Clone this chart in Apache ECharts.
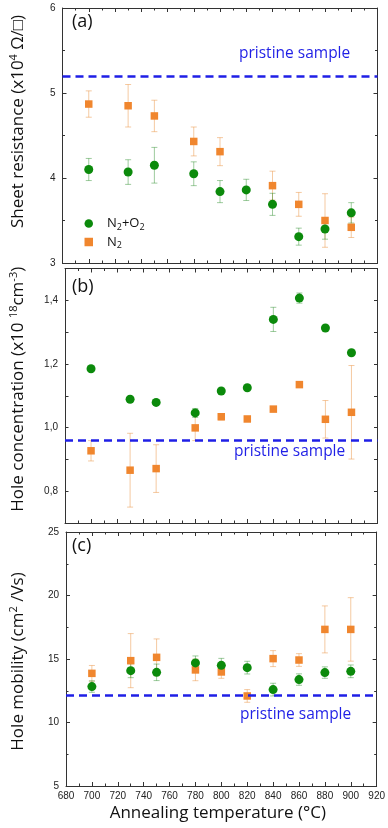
<!DOCTYPE html>
<html>
<head>
<meta charset="utf-8">
<script src="https://cdn.jsdelivr.net/npm/echarts@6/dist/echarts.min.js"></script>
<style>html,body{margin:0;padding:0;background:#fff;}#c{width:388px;height:828px;}</style>
</head>
<body>
<div id="c"></div>
<script>
// ---------- data ----------
const temps = [700, 730, 750, 780, 800, 820, 840, 860, 880, 900];
const xTicks = [680, 700, 720, 740, 760, 780, 800, 820, 840, 860, 880, 900, 920];

const resN2O2    = [4.10, 4.07, 4.15, 4.05, 3.84, 3.86, 3.69, 3.31, 3.40, 3.59];
const resN2O2Err = [0.13, 0.145, 0.21, 0.14, 0.13, 0.125, 0.13, 0.10, 0.12, 0.12];
const resN2      = [4.87, 4.85, 4.73, 4.43, 4.31, null, 3.91, 3.69, 3.50, 3.42];
const resN2Err   = [0.155, 0.25, 0.185, 0.17, 0.165, null, 0.17, 0.14, 0.315, 0.12];

const concN2O2    = [1.185, 1.089, 1.079, 1.046, 1.115, 1.125, 1.340, 1.407, 1.313, 1.235];
const concN2O2Err = [0.004, 0.004, 0.004, 0.014, 0.006, 0.004, 0.038, 0.016, 0.004, 0.004];
const concN2      = [0.927, 0.866, 0.871, 0.999, 1.034, 1.027, 1.058, 1.135, 1.026, 1.048];
const concN2Err   = [0.032, 0.116, 0.075, 0.040, 0.010, 0.005, 0.005, 0.005, 0.059, 0.147];

const mobN2O2    = [12.83, 14.08, 13.95, 14.69, 14.50, 14.32, 12.59, 13.38, 13.93, 14.03];
const mobN2O2Err = [0.45, 0.55, 0.65, 0.55, 0.55, 0.50, 0.50, 0.45, 0.45, 0.50];
const mobN2      = [13.87, 14.87, 15.13, 14.14, 13.98, 12.09, 15.03, 14.92, 17.33, 17.33];
const mobN2Err   = [0.62, 2.13, 1.45, 0.85, 0.50, 0.50, 0.63, 0.50, 1.85, 2.50];

const pristineRes = 5.2;
const pristineConc = 0.962;
const pristineMob = 12.15;

// ---------- styles ----------
const GREEN = '#0b8a0b';
const ORANGE = '#f0862e';
const GREEN_ERR = 'rgba(40,140,40,0.45)';
const ORANGE_ERR = 'rgba(235,150,70,0.5)';
const BLUE = '#1f1fe6';
const AX = '#333';
const TITLE_FONT = 'Open Sans';
const TICK_FONT = 'Liberation Sans';

const grids = [
  { left: 62.5, width: 315, top: 8, height: 255 },
  { left: 62.5, width: 315, top: 268.5, height: 254.5 },
  { left: 62.5, width: 315, top: 532, height: 254 }
];

function pts(vals) {
  const out = [];
  temps.forEach((t, i) => { if (vals[i] != null) out.push([t, vals[i]]); });
  return out;
}
function errs(vals, e) {
  const out = [];
  temps.forEach((t, i) => { if (vals[i] != null) out.push([t, vals[i] - e[i], vals[i] + e[i]]); });
  return out;
}
function errRender(color) {
  return function (params, api) {
    const x = api.value(0), lo = api.value(1), hi = api.value(2);
    const a = api.coord([x, hi]);
    const b = api.coord([x, lo]);
    const w = 3;
    const st = { stroke: color, lineWidth: 1 };
    return {
      type: 'group',
      children: [
        { type: 'line', shape: { x1: a[0], y1: a[1], x2: b[0], y2: b[1] }, style: st },
        { type: 'line', shape: { x1: a[0] - w, y1: a[1], x2: a[0] + w, y2: a[1] }, style: st },
        { type: 'line', shape: { x1: b[0] - w, y1: b[1], x2: b[0] + w, y2: b[1] }, style: st }
      ]
    };
  };
}

const supRich = {
  sup: { fontSize: 11, fontFamily: TITLE_FONT, color: '#111', padding: [0, 0, 9, 0] }
};

const xAxes = [];
const yAxes = [];
grids.forEach((g, gi) => {
  const last = gi === 2;
  const base = {
    type: 'value', gridIndex: gi, min: 680, max: 920, interval: 20,
    axisLine: { show: true, onZero: false, lineStyle: { color: AX, width: 1 } },
    axisTick: { show: true, inside: true, length: 4, lineStyle: { color: AX } },
    minorTick: { show: true, splitNumber: 2, length: 2.5, lineStyle: { color: AX } },
    splitLine: { show: false }
  };
  xAxes.push(Object.assign({}, base, {
    position: 'bottom',
    axisLabel: { show: last, margin: 5, fontSize: 10, fontFamily: TICK_FONT, color: '#222' },
    name: last ? 'Annealing temperature (°C)' : '',
    nameLocation: 'middle', nameGap: 19,
    nameTextStyle: { fontSize: 17, fontFamily: TITLE_FONT, color: '#111', padding: [0, 7, 0, 0] }
  }));
  xAxes.push(Object.assign({}, base, { position: 'top', axisLabel: { show: false } }));
});

const yDefs = [
  { min: 3, max: 6, interval: 1, minor: true, fmt: v => String(v),
    name: 'Sheet resistance (x10{sup|4} Ω/□)', gap: 34, pad: [0, 0, 0, 28] },
  { min: 0.7, max: 1.5, interval: 0.1, minor: false,
    fmt: v => { const k = Math.round(v * 10); return k % 2 === 0 ? (k / 10).toFixed(1).replace('.', ',') : ''; },
    name: 'Hole concentration (x10 {sup|18}cm{sup|-3})', gap: 37, pad: [0, 0, 0, 13] },
  { min: 5, max: 25, interval: 5, minor: true, fmt: v => String(v),
    name: 'Hole mobility (cm{sup|2} /Vs)', gap: 38, pad: [0, 5, 0, 0] }
];
yDefs.forEach((d, gi) => {
  const base = {
    type: 'value', gridIndex: gi, min: d.min, max: d.max, interval: d.interval,
    axisLine: { show: true, onZero: false, lineStyle: { color: AX, width: 1 } },
    axisTick: { show: true, inside: true, length: d.minor ? 4 : 3.5, lineStyle: { color: AX } },
    minorTick: { show: d.minor, splitNumber: 2, length: 2.5, lineStyle: { color: AX } },
    splitLine: { show: false }
  };
  yAxes.push(Object.assign({}, base, {
    position: 'left',
    axisLabel: { show: true, margin: 7, fontSize: 10, fontFamily: TICK_FONT, color: '#222', formatter: d.fmt },
    name: d.name, nameLocation: 'middle', nameRotate: 90, nameGap: d.gap,
    nameTextStyle: { fontSize: 17, fontFamily: TITLE_FONT, color: '#111', padding: d.pad, rich: supRich }
  }));
  yAxes.push(Object.assign({}, base, { position: 'right', axisLabel: { show: false } }));
});

function pristineLine(v) {
  return {
    silent: true, symbol: 'none', label: { show: false },
    lineStyle: { color: BLUE, type: [8, 5], width: 2.5 },
    data: [{ yAxis: v }], animation: false
  };
}

const panels = [
  { g: 0, n2o2: resN2O2, n2o2e: resN2O2Err, n2: resN2, n2e: resN2Err, pr: pristineRes },
  { g: 1, n2o2: concN2O2, n2o2e: concN2O2Err, n2: concN2, n2e: concN2Err, pr: pristineConc },
  { g: 2, n2o2: mobN2O2, n2o2e: mobN2O2Err, n2: mobN2, n2e: mobN2Err, pr: pristineMob }
];

const series = [];
panels.forEach(p => {
  const ax = { xAxisIndex: p.g * 2, yAxisIndex: p.g * 2 };
  series.push(Object.assign({ type: 'custom', name: 'errN2_' + p.g, renderItem: errRender(ORANGE_ERR),
    encode: { x: 0, y: [1, 2] }, data: errs(p.n2, p.n2e), z: 1, silent: true }, ax));
  series.push(Object.assign({ type: 'custom', name: 'errN2O2_' + p.g, renderItem: errRender(GREEN_ERR),
    encode: { x: 0, y: [1, 2] }, data: errs(p.n2o2, p.n2o2e), z: 1, silent: true }, ax));
  series.push(Object.assign({ type: 'scatter', name: 'N2', symbol: 'rect', symbolSize: 7.5,
    itemStyle: { color: ORANGE, opacity: 1 }, data: pts(p.n2), z: 2 }, ax));
  series.push(Object.assign({ type: 'scatter', name: 'N2+O2', symbol: 'circle', symbolSize: 9,
    itemStyle: { color: GREEN, opacity: 1 }, data: pts(p.n2o2), z: 3,
    markLine: pristineLine(p.pr) }, ax));
});

const txt = (t, left, top, size, color) => ({
  type: 'text', left: left, top: top, z: 10,
  style: { text: t, font: size + 'px "' + TITLE_FONT + '"', fill: color }
});

const option = {
  animation: false,
  backgroundColor: '#fff',
  grid: grids,
  xAxis: xAxes,
  yAxis: yAxes,
  series: series,
  legend: {
    data: [{ name: 'N2+O2', icon: 'circle' }, { name: 'N2', icon: 'rect' }],
    orient: 'vertical', left: 79.5, top: 212, itemWidth: 8.5, itemHeight: 8.5, itemGap: 4,
    symbolKeepAspect: true,
    formatter: n => n === 'N2+O2' ? 'N{s|2}+O{s|2}' : 'N{s|2}',
    textStyle: { fontSize: 13, fontFamily: TITLE_FONT, color: '#111', padding: [0, 0, 0, 9],
      rich: { s: { fontSize: 9, fontFamily: TITLE_FONT, color: '#111', padding: [7, 0, 0, 0] } } }
  },
  graphic: [
    txt('(a)', 72, 13, 18, '#111'),
    txt('(b)', 72, 278, 18, '#111'),
    txt('(c)', 72, 537, 18, '#111'),
    txt('pristine sample', 239, 46, 15.5, BLUE),
    txt('pristine sample', 234, 444, 15.5, BLUE),
    txt('pristine sample', 240, 707, 15.5, BLUE)
  ]
};

const chart = echarts.init(document.getElementById('c'), null, { renderer: 'canvas' });
chart.setOption(option);
</script>
</body>
</html>
